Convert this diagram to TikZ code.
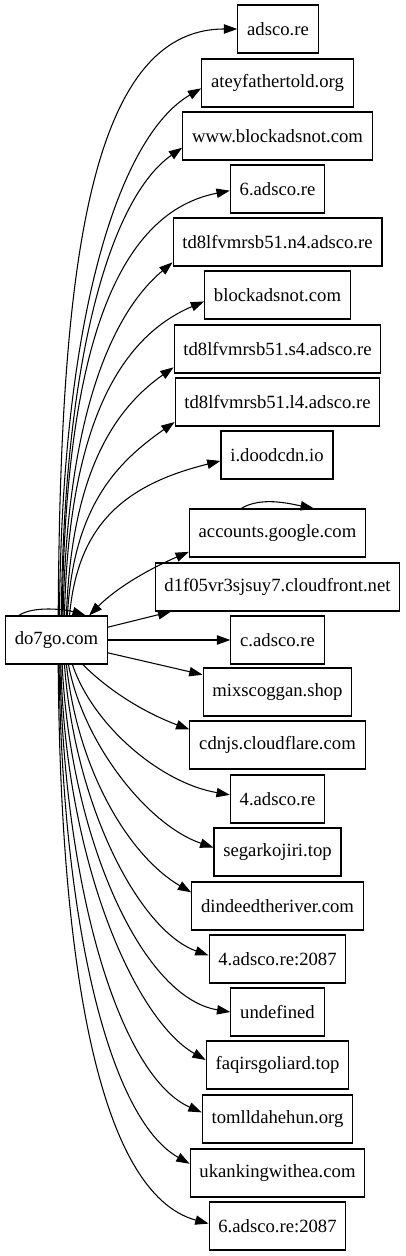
\documentclass[tikz,border=0pt]{standalone}
\usepackage{fontspec}
\setmainfont{Liberation Serif}
\usetikzlibrary{arrows.meta, positioning}
\tikzset{>={Triangle[length=10pt,width=7pt]}}
\tikzset{dom/.style={draw, rectangle, minimum height=36pt, minimum width=54pt, inner xsep=7pt, inner ysep=0pt, font=\fontsize{14}{16}\selectfont}}

\begin{document}
\begin{tikzpicture}[x=0.75pt, y=-0.75pt, line width=0.8pt]
		\useasboundingbox (0,0) rectangle (405,1256);
		\node[dom] (do7go) at (56.5,640) {do7go.com};
		\node[dom] (adsco) at (278,29) {adsco.re};
		\node[dom] (atey) at (277.5,83) {ateyfathertold.org};
		\node[dom] (wwwblk) at (277.5,136) {www.blockadsnot.com};
		\node[dom] (sixad) at (277.5,189) {6.adsco.re};
		\node[dom] (n4) at (277.5,242) {td8lfvmrsb51.n4.adsco.re};
		\node[dom] (blk) at (277.5,295) {blockadsnot.com};
		\node[dom] (s4) at (277.5,349) {td8lfvmrsb51.s4.adsco.re};
		\node[dom] (l4) at (277.5,402) {td8lfvmrsb51.l4.adsco.re};
		\node[dom] (dood) at (277,455) {i.doodcdn.io};
		\node[dom] (acc) at (277.5,533) {accounts.google.com};
		\node[dom] (cf) at (277.5,587) {d1f05vr3sjsuy7.cloudfront.net};
		\node[dom] (cad) at (277.5,640) {c.adsco.re};
		\node[dom] (mix) at (277.5,692) {mixscoggan.shop};
		\node[dom] (cdn) at (277.5,745) {cdnjs.cloudflare.com};
		\node[dom] (fourad) at (277.5,799) {4.adsco.re};
		\node[dom] (sega) at (277.5,852) {segarkojiri.top};
		\node[dom] (dind) at (277.5,906) {dindeedtheriver.com};
		\node[dom] (fourport) at (277.5,959) {4.adsco.re:2087};
		\node[dom] (undef) at (277.5,1012) {undefined};
		\node[dom] (faqir) at (277.5,1065) {faqirsgoliard.top};
		\node[dom] (toml) at (277.5,1119) {tomlldahehun.org};
		\node[dom] (ukan) at (277.5,1173) {ukankingwithea.com};
		\node[dom] (sixport) at (277.5,1226) {6.adsco.re:2087};
		% upper fan
		\draw [->](do7go.86) .. controls +(2,-340) and +(-150,0) .. (adsco.west);
		\draw [->](do7go.83) .. controls +(2,-300) and +(-82,48) .. (atey.184);
		\draw [->](do7go.79) .. controls +(3,-265) and +(-70,49) .. (wwwblk.187);
		\draw [->](do7go.77) .. controls +(3,-240) and +(-123,24) .. (sixad.182);
		\draw [->](do7go.75) .. controls +(4,-200) and +(-61,51) .. (n4.191);
		\draw [->](do7go.72) .. controls +(4,-175) and +(-92,39) .. (blk.185);
		\draw [->](do7go.68) .. controls +(5,-140) and +(-61,43) .. (s4.190);
		\draw [->](do7go.66) .. controls +(6,-110) and +(-57,40) .. (l4.191);
		\draw [->](do7go.62) .. controls +(8,-90) and +(-97,24) .. (dood.186);
		\draw [<->](do7go.37) .. controls +(30,-30) and +(-35,15) .. (acc.192);
		% loops
		\draw [->](do7go.147) .. controls +(15,-10) and +(-20,-6) .. (do7go.40);
		\draw [->](acc.146) .. controls +(20,-12) and +(-25,-5) .. (acc.34);
		% middle
		\draw [->](do7go.14) -- (cf.193);
		\draw [->](do7go.east) -- (cad.west);
		\draw [->](do7go.-14) -- (mix.167);
		% lower fan
		\draw [->](do7go.-43) .. controls +(30,30) and +(-40,-15) .. (cdn.170);
		\draw [->](do7go.-57) .. controls +(20,60) and +(-70,-12) .. (fourad.175);
		\draw [->](do7go.-64) .. controls +(15,80) and +(-65,-22) .. (sega.176);
		\draw [->](do7go.-68) .. controls +(12,110) and +(-60,-35) .. (dind.171);
		\draw [->](do7go.-72) .. controls +(10,140) and +(-70,-25) .. (fourport.177);
		\draw [->](do7go.-77) .. controls +(8,170) and +(-90,-15) .. (undef.west);
		\draw [->](do7go.-80) .. controls +(5,200) and +(-70,-40) .. (faqir.176);
		\draw [->](do7go.-82) .. controls +(4,230) and +(-80,-35) .. (toml.175);
		\draw [->](do7go.-84) .. controls +(3,260) and +(-80,-45) .. (ukan.174);
		\draw [->](do7go.-86) .. controls +(2,300) and +(-110,-30) .. (sixport.178);
\end{tikzpicture}
\end{document}
